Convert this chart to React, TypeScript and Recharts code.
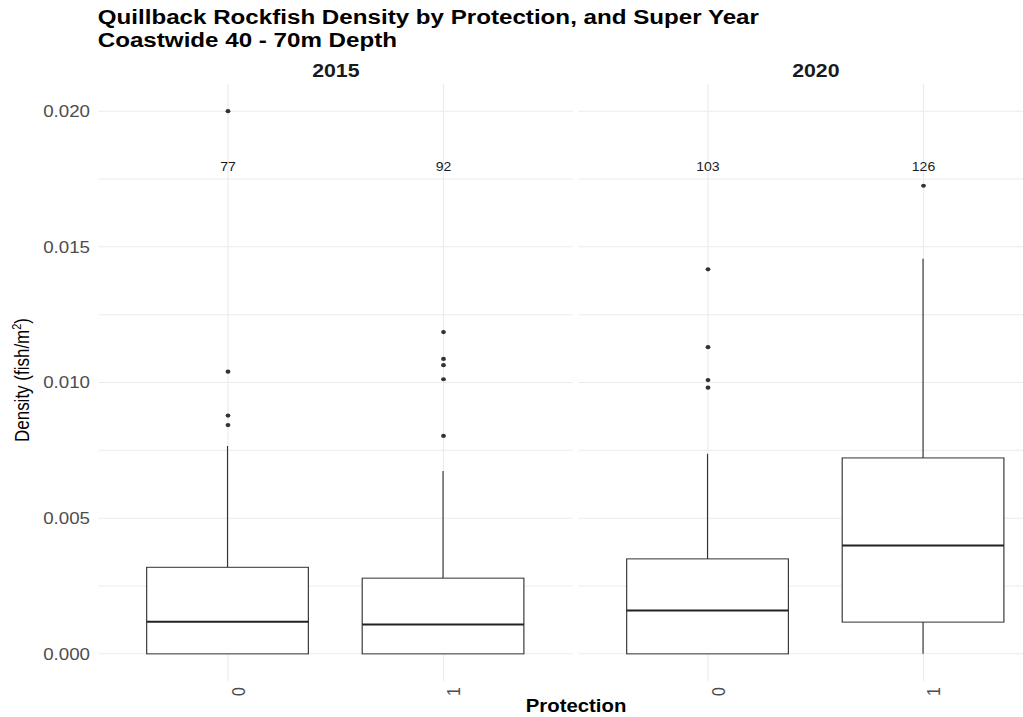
import React from "react"
import {
  ComposedChart,
  Bar,
  Scatter,
  XAxis,
  YAxis,
  CartesianGrid
} from "recharts"

// values
const protection = [0, 1]
const years = ["2015", "2020"]

const nSamples2015 = [77, 92]
const lower2015 = [0, 0]
const q1_2015 = [0, 0]
const median2015 = [0.00118, 0.00108]
const q3_2015 = [0.00319, 0.00279]
const upper2015 = [0.00766, 0.00674]
const outliers2015 = [
  [0.0200, 0.0104, 0.00878, 0.00843],
  [0.01186, 0.01087, 0.01064, 0.01012, 0.00803]
]

const nSamples2020 = [103, 126]
const lower2020 = [0, 0]
const q1_2020 = [0, 0.00117]
const median2020 = [0.0016, 0.00399]
const q3_2020 = [0.0035, 0.00722]
const upper2020 = [0.00737, 0.01456]
const outliers2020 = [
  [0.01417, 0.0113, 0.01009, 0.00981],
  [0.01725]
]

const countLabelY = 0.018
const yTicks = [0, 0.0025, 0.005, 0.0075, 0.01, 0.0125, 0.015, 0.0175, 0.02]

const FONT = "'Liberation Sans', Arial, sans-serif"
const STRETCH = 1.15

const buildBoxes = (lo: number[], q1: number[], med: number[], q3: number[], hi: number[]) =>
  protection.map((p, i) => ({ x: p, lo: lo[i], q1: q1[i], med: med[i], q3: q3[i], hi: hi[i] }))

const buildOutliers = (out: number[][]) =>
  out.flatMap((vals, i) => vals.map((v) => ({ x: protection[i], y: v })))

const buildCounts = (n: number[]) =>
  protection.map((p, i) => ({ x: p, y: countLabelY, n: n[i] }))

const BoxShape = (props: any) => {
  const { x, y, width, height, payload } = props
  const { lo, q1, med, q3, hi } = payload
  const bottom = y + height
  const k = height / (q3 - q1)
  const py = (v: number) => bottom - (v - q1) * k
  const cx = x + width / 2
  return (
    <g>
      <line x1={cx} x2={cx} y1={py(hi)} y2={y} stroke="#333" strokeWidth={1} />
      {lo < q1 && <line x1={cx} x2={cx} y1={bottom} y2={py(lo)} stroke="#333" strokeWidth={1} />}
      <rect x={x} y={y} width={width} height={height} fill="#fff" stroke="#333" strokeWidth={1} />
      <line x1={x} x2={x + width} y1={py(med)} y2={py(med)} stroke="#222" strokeWidth={2} />
    </g>
  )
}

const Dot = (p: any) => <ellipse cx={p.cx} cy={p.cy} rx={2.1} ry={2.1} fill="#333" />

const CountText = (p: any) => (
  <text x={p.cx} y={p.cy + 1} textAnchor="middle" dominantBaseline="central"
    fontSize={12.2} fontFamily={FONT} fill="#1a1a1a">{p.payload.n}</text>
)

const XTick = (p: any) => {
  const tx = p.x + 14.5
  const ty = p.y + 6
  return (
    <text x={tx} y={ty} transform={`rotate(-90 ${tx} ${ty})`} textAnchor="end"
      fontSize={16} fontFamily={FONT} fill="#4d4d4d">{p.payload.value}</text>
  )
}

const YLabel = () => {
  const cx = 25.1
  const cy = 380
  return (
    <text x={cx} y={cy} transform={`rotate(-90 ${cx} ${cy})`} textAnchor="middle"
      fontSize={17} fontFamily={FONT} fill="#000">
      Density (fish/m<tspan dy={-7} fontSize={11}>2</tspan><tspan dy={7}>)</tspan>
    </text>
  )
}

function Panel({ boxes, outliers, counts, showY, width, margin }: any) {
  return (
    <ComposedChart width={width} height={717} data={boxes} margin={margin}>
      <CartesianGrid stroke="#ebebeb" strokeWidth={1} syncWithTicks />
      <XAxis dataKey="x" type="number" domain={[-0.6, 1.6]} ticks={protection}
        allowDataOverflow axisLine={false} tickLine={false} tickSize={0} tickMargin={0}
        height={36} tick={<XTick />} interval={0} />
      <YAxis type="number" domain={[-0.001, 0.021]} ticks={yTicks} allowDataOverflow
        hide={!showY} width={60} axisLine={false} tickLine={false} tickSize={0} tickMargin={7.5}
        interval={0}
        tick={{ fontSize: 16.3, fontFamily: FONT, fill: "#4d4d4d" }}
        tickFormatter={(v: number) => (Math.round(v * 10000) % 50 === 0 ? v.toFixed(3) : "")}
        label={showY ? <YLabel /> : undefined} />
      <Bar dataKey={(d: any) => [d.q1, d.q3]} barSize={140.6} shape={<BoxShape />} isAnimationActive={false} />
      <Scatter data={outliers} dataKey="y" shape={<Dot />} isAnimationActive={false} />
      <Scatter data={counts} dataKey="y" shape={<CountText />} isAnimationActive={false} />
    </ComposedChart>
  )
}

export default function App() {
  const strip = (label: string, center: number) => (
    <div style={{ position: "absolute", left: center - 60, width: 120, top: 62, textAlign: "center",
      fontFamily: FONT, fontWeight: 700, fontSize: 18.5, lineHeight: "18.5px", color: "#1a1a1a" }}>{label}</div>
  )
  const titleLine = (text: string, top: number) => (
    <div style={{ position: "absolute", left: 85.2, top, fontFamily: FONT, fontWeight: 700,
      fontSize: 20, lineHeight: "20px", color: "#000", whiteSpace: "nowrap",
      transform: "scaleX(1.05)", transformOrigin: "0 0" }}>{text}</div>
  )

  return (
    <div style={{ position: "absolute", left: 0, top: 0, width: 1023, height: 717, overflow: "hidden", background: "#fff" }}>
      <div style={{ position: "absolute", left: 0, top: 0, width: 940, height: 717,
        transform: `scaleX(${STRETCH})`, transformOrigin: "0 0" }}>

        {titleLine("Quillback Rockfish Density by Protection, and Super Year", 7.3)}
        {titleLine("Coastwide 40 - 70m Depth", 29.8)}

        {strip(years[0], 292)}
        {strip(years[1], 709.4)}

        <div style={{ position: "absolute", left: 0, top: 0 }}>
          <Panel width={500} showY
            boxes={buildBoxes(lower2015, q1_2015, median2015, q3_2015, upper2015)}
            outliers={buildOutliers(outliers2015)}
            counts={buildCounts(nSamples2015)}
            margin={{ top: 84, right: 1.9, bottom: 0, left: 25.8 }} />
        </div>
        <div style={{ position: "absolute", left: 500, top: 0 }}>
          <Panel width={430} showY={false}
            boxes={buildBoxes(lower2020, q1_2020, median2020, q3_2020, upper2020)}
            outliers={buildOutliers(outliers2020)}
            counts={buildCounts(nSamples2020)}
            margin={{ top: 84, right: 14.5, bottom: 0, left: 3.2 }} />
        </div>

        <div style={{ position: "absolute", left: 500.9 - 80, width: 160, top: 698, textAlign: "center",
          fontFamily: FONT, fontWeight: 700, fontSize: 17.7, lineHeight: "17.7px", color: "#000" }}>
          Protection
        </div>
      </div>
    </div>
  )
}
